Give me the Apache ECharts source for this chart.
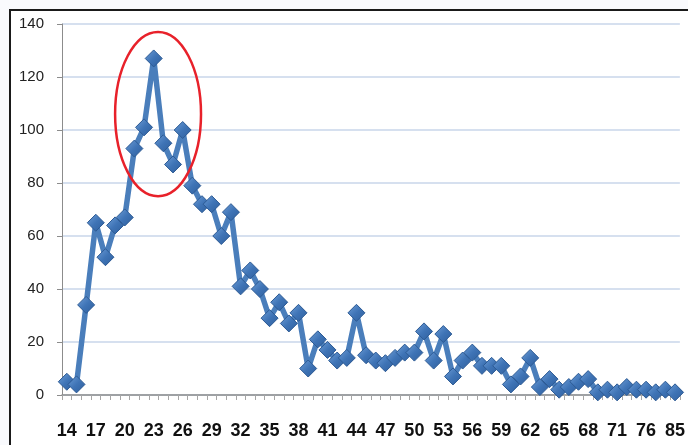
<!DOCTYPE html>
<html>
<head>
<meta charset="utf-8">
<script src="https://cdn.jsdelivr.net/npm/echarts@6/dist/echarts.min.js"></script>
<style>
html,body{margin:0;padding:0;background:#ffffff;}
#chart{width:688px;height:445px;}
</style>
</head>
<body>
<div id="chart"></div>
<script>
// Categories (ages); labels shown every 3rd category
const categories = [
  '14','15','16','17','18','19','20','21','22','23','24','25','26','27','28','29',
  '30','31','32','33','34','35','36','37','38','39','40','41','42','43','44','45',
  '46','47','48','49','50','51','52','53','54','55','56','57','58','59','60','61',
  '62','63','64','65','66','67','68','69','70','71','72','74','76','78','81','85'
];
const counts = [
  5, 4, 34, 65, 52, 64, 67, 93, 101, 127, 95, 87, 100, 79, 72, 72,
  60, 69, 41, 47, 40, 29, 35, 27, 31, 10, 21, 17, 13, 14, 31, 15,
  13, 12, 14, 16, 16, 24, 13, 23, 7, 13, 16, 11, 11, 11, 4, 7,
  14, 3, 6, 2, 3, 5, 6, 1, 2, 1, 3, 2, 2, 1, 2, 1
];
const yTicks = { min: 0, max: 140, interval: 20 };
// Highlight ellipse in data units: centre category index, centre value, half-width in categories, half-height in values
const highlight = { cIdx: 9.45, cVal: 106, halfCats: 4.45, halfVals: 31 };

const chart = echarts.init(document.getElementById('chart'), null, { renderer: 'canvas' });

const option = {
  backgroundColor: '#f9fafd',
  animation: false,
  grid: { left: 62, right: 2, top: 24, bottom: 50, containLabel: false },
  xAxis: {
    type: 'category',
    data: categories,
    boundaryGap: true,
    axisLine: { show: true, lineStyle: { color: '#8c8c8c', width: 1.5 } },
    axisTick: { show: true, interval: 0, length: 5, inside: false, lineStyle: { color: '#a6a6a6', width: 1 } },
    axisLabel: {
      interval: 2,
      margin: 27,
      color: '#111111',
      fontSize: 18,
      fontWeight: 'bold',
      fontFamily: '"Liberation Sans", Arial, sans-serif'
    },
    splitLine: { show: false }
  },
  yAxis: {
    type: 'value',
    min: yTicks.min,
    max: yTicks.max,
    interval: yTicks.interval,
    axisLine: { show: true, lineStyle: { color: '#8c8c8c', width: 1 } },
    axisTick: { show: true, length: 5, lineStyle: { color: '#8c8c8c' } },
    axisLabel: {
      margin: 18,
      color: '#222222',
      fontSize: 15,
      fontFamily: '"Liberation Sans", Arial, sans-serif'
    },
    splitLine: { show: true, lineStyle: { color: '#c9d6ea', width: 1.5 } }
  },
  series: [{
    type: 'line',
    data: counts,
    symbol: 'diamond',
    symbolSize: 17,
    showSymbol: true,
    showAllSymbol: true,
    lineStyle: { color: '#4a7ebb', width: 5.5 },
    itemStyle: {
      color: new echarts.graphic.LinearGradient(0, 0, 1, 1, [
        { offset: 0, color: '#6f9fd8' },
        { offset: 0.5, color: '#3f74b6' },
        { offset: 1, color: '#2e5e9c' }
      ]),
      borderColor: '#2c5a94',
      borderWidth: 1
    },
    emphasis: { disabled: true },
    z: 3
  }]
};
chart.setOption(option);

// Annotation overlays: outer frame and red ellipse placed through the chart's own scales
const pA = chart.convertToPixel({ gridIndex: 0 }, [0, highlight.cVal]);
const pB = chart.convertToPixel({ gridIndex: 0 }, [1, highlight.cVal + highlight.halfVals]);
const step = pB[0] - pA[0];
const cx = pA[0] + step * highlight.cIdx;
const cy = pA[1];
const rx = step * highlight.halfCats;
const ry = Math.abs(pA[1] - pB[1]);

chart.setOption({
  graphic: [
    {
      type: 'rect',
      z: -10,
      silent: true,
      shape: { x: 10, y: 10, width: 760, height: 520 },
      style: { fill: '#ffffff', stroke: '#1a1a1a', lineWidth: 2 }
    },
    {
      type: 'ellipse',
      z: 10,
      silent: true,
      shape: { cx: cx, cy: cy, rx: rx, ry: ry },
      style: { fill: 'none', stroke: '#e8212a', lineWidth: 2.5 }
    }
  ]
});
</script>
</body>
</html>
